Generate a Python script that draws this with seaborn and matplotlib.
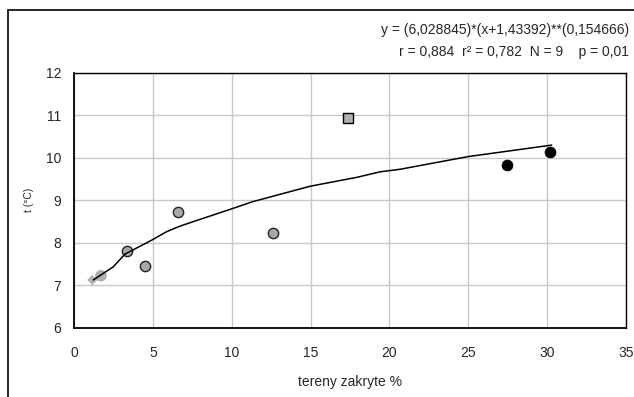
import matplotlib
matplotlib.use("Agg")
import matplotlib.pyplot as plt
import seaborn as sns
import pandas as pd
from matplotlib.patches import Rectangle

sns.set_theme(style="white")
plt.rcParams['font.family'] = ['Liberation Sans', 'DejaVu Sans']

# data points
x_light = [1.16, 1.71]
y_light = [7.12, 7.22]
x_grey = [3.36, 4.52, 6.60, 12.62]
y_grey = [7.81, 7.45, 8.72, 8.23]
x_square = [17.39]
y_square = [10.93]
x_black = [27.48, 30.20]
y_black = [9.84, 10.13]

# fitted curve
curve_x = [1.22, 2.49, 3.23, 4.93, 5.88, 6.72, 8.0, 10.1, 11.27, 14.97, 17.93, 19.4, 20.67, 25.0, 30.29]
curve_y = [7.12, 7.43, 7.73, 8.06, 8.26, 8.39, 8.55, 8.81, 8.96, 9.33, 9.54, 9.67, 9.73, 10.03, 10.30]

x_ticks = [0, 5, 10, 15, 20, 25, 30, 35]
y_ticks = [6, 7, 8, 9, 10, 11, 12]

eq_text = "y = (6,028845)*(x+1,43392)**(0,154666)"
stat_text = "r = 0,884  r² = 0,782  N = 9    p = 0,01"

fig = plt.figure(figsize=(6.34, 3.97), dpi=100)
ax = fig.add_axes([74/634, 1-327.5/397, (626-74)/634, (327.5-73)/397])

ax.grid(True, color="#c8c8c8", lw=1)
ax.set_axisbelow(True)

curve = pd.DataFrame({"x": curve_x, "y": curve_y})
sns.lineplot(data=curve, x="x", y="y", sort=False, estimator=None, color="black", lw=1.1, ax=ax)

sns.scatterplot(x=[x_light[0]], y=[y_light[0]], marker="D", s=28, color="#b4b4b4", edgecolor="none", ax=ax)
sns.scatterplot(x=[x_light[1]], y=[y_light[1]], marker="o", s=70, color="#b0b0b0", edgecolor="none", ax=ax)
sns.scatterplot(x=x_grey, y=y_grey, marker="o", s=55, color="#a8a8a8", edgecolor="#222222", linewidth=1, ax=ax)
sns.scatterplot(x=x_square, y=y_square, marker="s", s=55, color="#b0b0b0", edgecolor="black", linewidth=1, ax=ax)
sns.scatterplot(x=x_black, y=y_black, marker="o", s=60, color="black", edgecolor="black", ax=ax)

ax.set_xlim(0, 35)
ax.set_ylim(6, 12)
ax.set_xticks(x_ticks)
ax.set_yticks(y_ticks)
ax.tick_params(axis="both", direction="out", length=5, width=1, color="black", labelsize=10, pad=4)
ax.tick_params(axis="x", pad=8)
for s in ax.spines.values():
    s.set_visible(True)
    s.set_color("black")
    s.set_linewidth(1)
ax.spines["bottom"].set_linewidth(1.3)
ax.spines["left"].set_linewidth(1.3)

ax.set_xlabel("tereny zakryte %", fontsize=10, labelpad=11)
ax.set_ylabel("t (°C)", fontsize=7.5, labelpad=9)

fig.text(629/634, 1-30/397, eq_text, ha="right", va="center", fontsize=10)
fig.text(629/634, 1-52/397, stat_text, ha="right", va="center", fontsize=10)

fig.patches.append(Rectangle((8/634, -0.2), 1.2, 1.2 - 10/397, transform=fig.transFigure,
                             fill=False, edgecolor="black", lw=1.2, figure=fig))

fig.savefig("out.png", dpi=100)
